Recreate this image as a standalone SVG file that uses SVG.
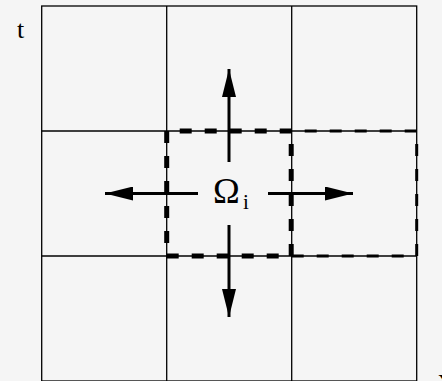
<svg xmlns="http://www.w3.org/2000/svg" width="442" height="381" viewBox="0 0 442 381">
<style>
.grid{fill:none;stroke:#000;stroke-width:1.3}
.thick{fill:none;stroke:#000;stroke-width:5;stroke-dasharray:12 13}
.thin{fill:none;stroke:#000;stroke-width:3;stroke-dasharray:12 13}
.gapfirst{stroke-dashoffset:12}
.arr{stroke:#000;stroke-width:3;fill:none}
.lbl{font-family:"Liberation Serif","Times New Roman",serif;fill:#000}
</style>
<defs>
<marker id="ah" markerUnits="userSpaceOnUse" markerWidth="28" markerHeight="14" refX="28" refY="7" orient="auto">
<path d="M0,0 L28,7 L0,14 z" fill="#000"/>
</marker>
</defs>
<rect width="442" height="381" fill="#f5f5f5"/>
<g id="grid">
<rect class="grid" x="41.7" y="6" width="375" height="375"/>
<line class="grid" x1="166.7" y1="6" x2="166.7" y2="381"/>
<line class="grid" x1="291.7" y1="6" x2="291.7" y2="381"/>
<line class="grid" x1="41.7" y1="131" x2="416.7" y2="131"/>
<line class="grid" x1="41.7" y1="256" x2="416.7" y2="256"/>
</g>
<g id="neighbor">
<path class="thin gapfirst" d="M291.7,131 H416.7"/>
<path class="thin gapfirst" d="M416.7,131 V256"/>
<path class="thin" d="M291.7,256 H416.7"/>
</g>
<g id="omega">
<path class="thick gapfirst" d="M166.7,131 H291.7"/>
<path class="thick" d="M166.7,131 V256"/>
<path class="thick" d="M166.7,256 H291.7"/>
<path class="thick gapfirst" d="M291.2,131 V256"/>
<text class="lbl" x="213" y="203" font-size="36">Ω</text>
<text class="lbl" x="243" y="209" font-size="21">i</text>
</g>
<g id="connectors">
<line class="arr" x1="229" y1="162" x2="229" y2="69" marker-end="url(#ah)"/>
<line class="arr" x1="229" y1="225" x2="229" y2="317" marker-end="url(#ah)"/>
<line class="arr" x1="198" y1="193.5" x2="105" y2="193.5" marker-end="url(#ah)"/>
<line class="arr" x1="268" y1="193.5" x2="353" y2="193.5" marker-end="url(#ah)"/>
</g>
<g id="axes">
<text class="lbl" x="17" y="38" font-size="26">t</text>
<text class="lbl" x="438" y="387" font-size="26">x</text>
</g>
</svg>
